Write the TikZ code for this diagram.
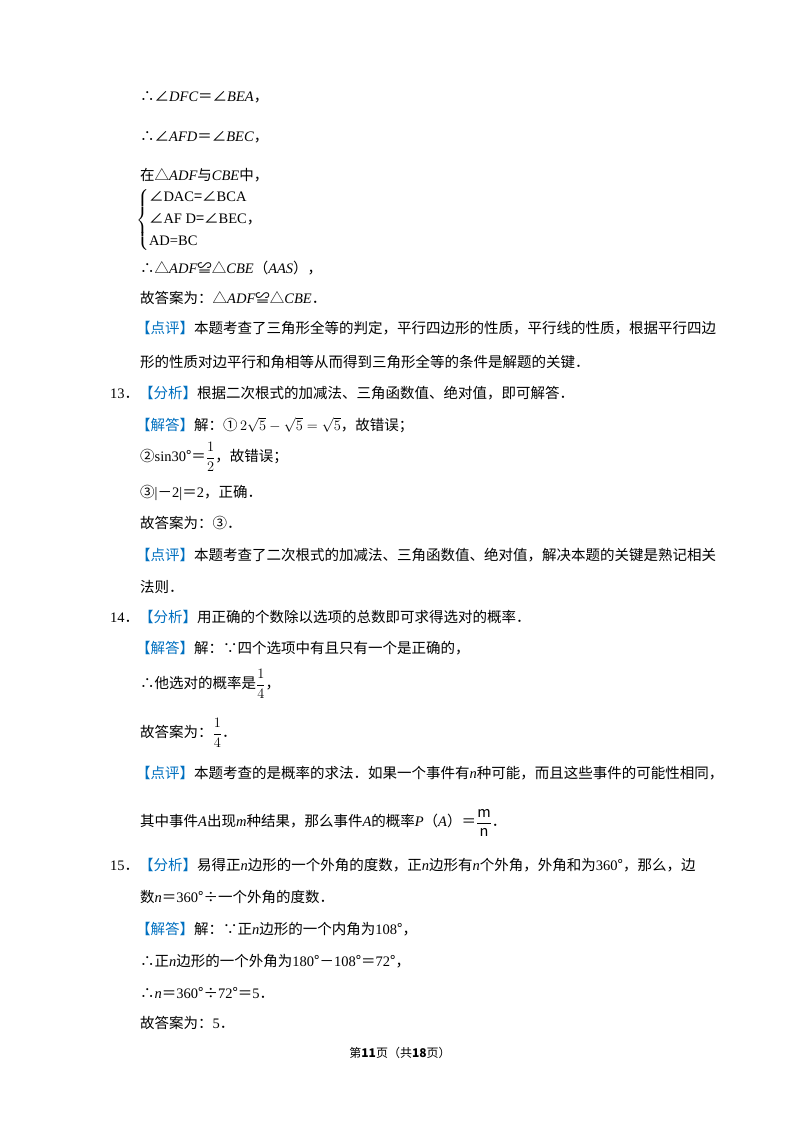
\documentclass[tikz,border=0pt]{standalone}
\usepackage{amsmath}
\usepackage{fontspec}
\setmainfont{Noto Sans CJK SC}
\newfontfamily\lat{Liberation Serif}
\newcommand{\vv}[1]{{\lat\itshape #1}}
\newcommand{\rr}[1]{{\lat #1}}
\definecolor{tagblue}{RGB}{0,112,192}
\newcommand{\tg}[1]{\textcolor{tagblue}{【#1】}}
\begin{document}
\begin{tikzpicture}[x=1pt,y=-1pt,font=\fontsize{14.5}{17}\selectfont,
  ln/.style={anchor=west,inner sep=0pt}]
\useasboundingbox[fill=white] (0,0) rectangle (800,1132);
\node[ln] (l1) at (140,97) {∴∠\vv{DFC}＝∠\vv{BEA}，};
\node[ln] (l2) at (140,137) {∴∠\vv{AFD}＝∠\vv{BEC}，};
\node[ln] (l3) at (140,175) {在△\vv{ADF}与\vv{CBE}中，};
\node[ln] (l4) at (136,220) {$\left\{\begin{tabular}{@{}l@{}}∠\rr{DAC}=∠\rr{BCA}\\[5pt]∠\rr{AF D}=∠\rr{BEC}，\\[5pt]\rr{AD=BC}\end{tabular}\right.$};
\node[ln] (l5) at (140,268) {∴△\vv{ADF}≌△\vv{CBE}（\vv{AAS}），};
\node[ln] (l6) at (140,298) {故答案为：△\vv{ADF}≌△\vv{CBE}．};
\node[ln] (l7) at (136,328) {\tg{点评}本题考查了三角形全等的判定，平行四边形的性质，平行线的性质，根据平行四边};
\node[ln] (l8) at (140,362) {形的性质对边平行和角相等从而得到三角形全等的条件是解题的关键．};
\node[ln] (l9) at (110,393) {\rr{13}．\tg{分析}根据二次根式的加减法、三角函数值、绝对值，即可解答．};
\node[ln] (l10) at (136,425) {\tg{解答}解：①\,$2\sqrt{5}-\sqrt{5}=\sqrt{5}$，故错误；};
\node[ln] (l11) at (140,457) {②\rr{sin30}°＝$\dfrac{1}{2}$，故错误；};
\node[ln] (l12) at (140,493) {③\rr{|}－\rr{2|}＝\rr{2}，正确．};
\node[ln] (l13) at (140,523) {故答案为：③．};
\node[ln] (l14) at (136,555) {\tg{点评}本题考查了二次根式的加减法、三角函数值、绝对值，解决本题的关键是熟记相关};
\node[ln] (l15) at (140,587) {法则．};
\node[ln] (l16) at (110,617) {\rr{14}．\tg{分析}用正确的个数除以选项的总数即可求得选对的概率．};
\node[ln] (l17) at (136,648) {\tg{解答}解：∵四个选项中有且只有一个是正确的，};
\node[ln] (l18) at (140,684) {∴他选对的概率是$\dfrac{1}{4}$，};
\node[ln] (l19) at (140,733) {故答案为：$\dfrac{1}{4}$．};
\node[ln] (l20) at (136,773) {\tg{点评}本题考查的是概率的求法．如果一个事件有\vv{n}种可能，而且这些事件的可能性相同，};
\node[ln] (l21) at (140,823) {其中事件\vv{A}出现\vv{m}种结果，那么事件\vv{A}的概率\vv{P}（\vv{A}）＝$\dfrac{\mathrm{m}}{\mathrm{n}}$．};
\node[ln] (l22) at (110,865) {\rr{15}．\tg{分析}易得正\vv{n}边形的一个外角的度数，正\vv{n}边形有\vv{n}个外角，外角和为\rr{360}°，那么，边};
\node[ln] (l23) at (140,897) {数\vv{n}＝\rr{360}°÷一个外角的度数．};
\node[ln] (l24) at (136,929) {\tg{解答}解：∵正\vv{n}边形的一个内角为\rr{108}°，};
\node[ln] (l25) at (140,961) {∴正\vv{n}边形的一个外角为\rr{180}°－\rr{108}°＝\rr{72}°，};
\node[ln] (l26) at (140,993) {∴\vv{n}＝\rr{360}°÷\rr{72}°＝\rr{5}．};
\node[ln] (l27) at (140,1023) {故答案为：\rr{5}．};
\node (ft) at (400,1053) {\fontsize{12}{14}\selectfont 第\textbf{11}页（共\textbf{18}页）};
\end{tikzpicture}
\end{document}
